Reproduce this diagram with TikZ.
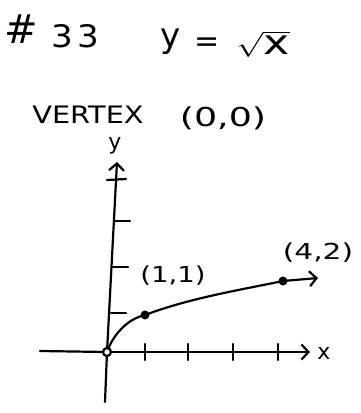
\documentclass[tikz,border=0pt]{standalone}
\usepackage{fontspec}
\setmainfont{DejaVu Sans}
\usetikzlibrary{arrows.meta}
\newcommand{\widetext}[2]{\scalebox{#1}[1]{#2}}
\begin{document}
\begin{tikzpicture}[x=1pt,y=-1pt,line cap=round,line join=round,
  ink/.style={line width=2.2pt},
  axisarrow/.style={ink,-{Straight Barb[length=7pt,width=15pt,line width=2.2pt]}},
  dot/.style={circle,fill=black,inner sep=0pt,minimum size=9pt},
  hollow/.style={circle,draw=black,fill=white,line width=2.2pt,inner sep=0pt,minimum size=8pt},
  lbl/.style={inner sep=0pt,font=\fontsize{22}{22}\selectfont}]
\useasboundingbox (0,0) rectangle (361,413);
% titles
\node[lbl,font=\fontsize{40}{40}\selectfont] (hash) at (21,29) {\#};
\node[lbl,font=\fontsize{31}{31}\selectfont] (num) at (75,36) {\widetext{1.1}{3\hspace{4pt}3}};
\node[lbl,font=\fontsize{34}{34}\selectfont] (yeq) at (171,42) {y};
\node[lbl,font=\fontsize{30}{30}\selectfont] (eq) at (207,45) {=};
\node[lbl,font=\fontsize{34}{34}\selectfont] (rt) at (263,44) {\widetext{1.3}{$\sqrt{\hbox{x}}$}};
\node[lbl,font=\fontsize{24}{24}\selectfont] (vtx) at (88,115) {\widetext{1.2}{VERTEX}};
\node[lbl,font=\fontsize{26}{26}\selectfont] (vxy) at (223,118) {\widetext{1.4}{(0,0)}};
% axes
\coordinate (O) at (107,352);
\coordinate (xl) at (40,351);
\coordinate (xr) at (310,352);
\coordinate (yb) at (105,402);
\coordinate (yt) at (117,162);
\draw[ink] (xl) -- (O);
\draw[axisarrow] (O) -- (xr);
\draw[ink] (yb) -- (O);
\draw[axisarrow] (O) -- (yt);
\node[lbl] (xlab) at (324,353) {x};
\node[lbl] (ylab) at (115,146) {y};
% x ticks
\foreach \t/\xx in {a/145,b/188,c/233,d/278}{
  \coordinate (xt\t) at (\xx,352);
  \draw[ink] ([yshift=-8pt]xt\t) -- ([yshift=8pt]xt\t);
}
% y ticks
\coordinate (yt1) at (111,313);
\coordinate (yt2) at (113,267);
\coordinate (yt3) at (114,221);
\coordinate (yt4) at (116,180);
\draw[ink] (yt1) -- ++(15,0);
\draw[ink] (yt2) -- ++(15,0);
\draw[ink] (yt3) -- ++(16,0);
\draw[ink] ([xshift=-9pt]yt4) -- ++(19,-1);
% curve
\coordinate (P1) at (145,315);
\coordinate (P4) at (283,281);
\coordinate (end) at (318,278);
\draw[ink] (O) .. controls (113,335) and (127,319) .. (P1)
  .. controls (190,298) and (240,290) .. (P4);
\draw[axisarrow] (P4) -- (end);
\node[dot] (d1) at (P1) {};
\node[dot] (d4) at (P4) {};
\node[hollow] (d0) at (O) {};
\node[lbl] (l11) at (173,276) {\widetext{1.25}{(1,1)}};
\node[lbl] (l42) at (318,253) {\widetext{1.35}{(4,2)}};
\end{tikzpicture}
\end{document}
